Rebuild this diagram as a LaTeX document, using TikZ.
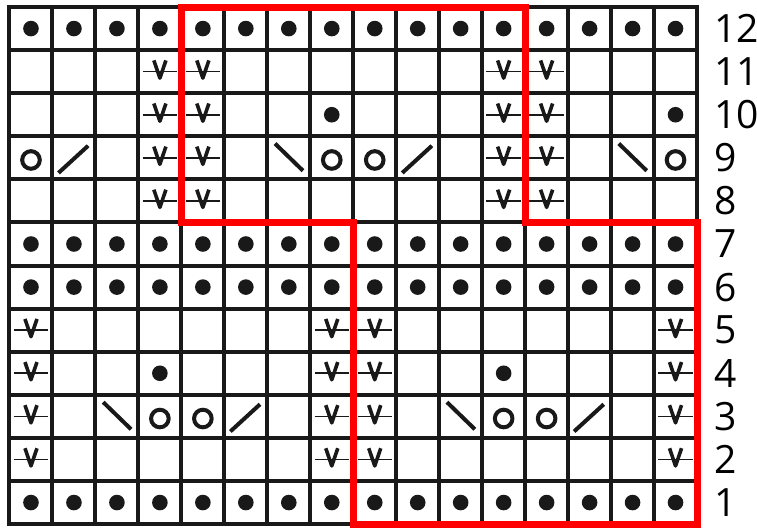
\documentclass[tikz,border=0pt]{standalone}
\usepackage{fontspec}
\setmainfont{Open Sans}

\tikzset{
  gridline/.style={line width=2pt, black!90, xstep=21.48pt, ystep=21.54pt},
  outline/.style={line width=3.5pt, red},
  purlstitch/.style={fill=black!90},
  yarnover/.style={line width=2pt, black!90},
  decline/.style={line width=2pt, black!90},
  slipbar/.style={line width=0.8pt, black!90},
  slipvee/.style={line width=1.8pt, black!90, line join=round},
  rowlabel/.style={font=\fontsize{19.5}{20}\selectfont, inner sep=0pt, anchor=west}
}

\begin{document}
\begin{tikzpicture}[x=21.48pt, y=21.54pt]
\useasboundingbox (-0.221,-0.07) rectangle (17.396,12.163);

% purl rows and single purl stitches
\foreach \r in {1,6,7,12}
  \foreach \c in {1,...,16}
    \fill [purlstitch] (\c-0.5,\r-0.5) circle (3.9pt);
\foreach \c/\r in {8/10,16/10,4/4,12/4}
  \fill [purlstitch] (\c-0.5,\r-0.5) circle (3.9pt);

% slipped stitches, yarn held in front
\foreach \c/\r in {4/8,5/8,12/8,13/8, 4/9,5/9,12/9,13/9,
                   4/10,5/10,12/10,13/10, 4/11,5/11,12/11,13/11,
                   1/2,8/2,9/2,16/2, 1/3,8/3,9/3,16/3,
                   1/4,8/4,9/4,16/4, 1/5,8/5,9/5,16/5} {
  \draw [slipbar] (\c-0.9,\r-0.5) -- (\c-0.1,\r-0.5);
  \draw [slipvee] (\c-0.64,\r-0.24) -- (\c-0.5,\r-0.65) -- (\c-0.36,\r-0.24);
}

% yarn overs
\foreach \c/\r in {1/9,8/9,9/9,16/9, 4/3,5/3,12/3,13/3}
  \draw [yarnover] (\c-0.5,\r-0.55) circle (4.4pt);

% right-leaning decreases
\foreach \c/\r in {2/9,10/9, 6/3,14/3}
  \draw [decline] (\c-0.86,\r-0.85) -- (\c-0.17,\r-0.22);

% left-leaning decreases
\foreach \c/\r in {7/9,15/9, 3/3,11/3}
  \draw [decline] (\c-0.82,\r-0.17) -- (\c-0.17,\r-0.8);

% chart grid
\draw [gridline] (0,0) grid (16,12);
\draw [gridline] (0,0) rectangle (16,12);

% pattern repeat
\draw [outline] (4,12) -- (12,12) -- (12,7) -- (16,7) -- (16,0) -- (8,0) -- (8,7) -- (4,7) -- cycle;

% row numbers
\foreach \r in {1,...,12}
  \node [rowlabel] (row\r) at (16.39,\r-0.5) {\r};

\end{tikzpicture}
\end{document}
